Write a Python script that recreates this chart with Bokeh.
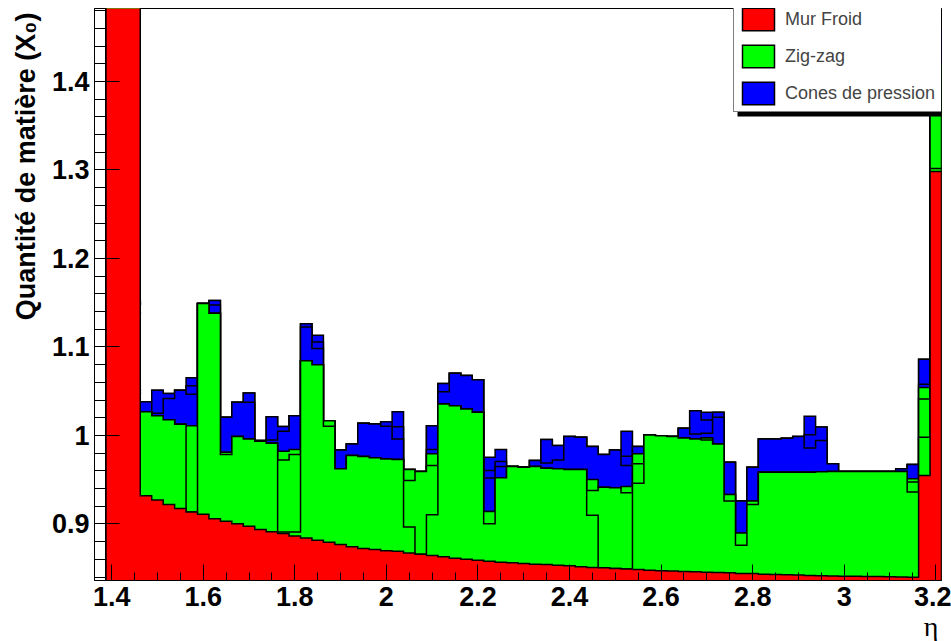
import numpy as np
from bokeh.plotting import figure
from bokeh.models import (Range1d, FixedTicker, Legend, LegendItem, Title,
                          BoxAnnotation, NumeralTickFormatter)
from bokeh.embed import file_html
from bokeh.resources import INLINE

# ---------------- data (eta bins of width 0.025 starting at 1.3625) ----------------
eta_start = 1.3625
bin_width = 0.025
n_bins = 74

# Mur Froid (red, bottom of the stack)
mur_froid = [
    0.0, 1.60, 1.60, 1.60,
    0.9319, 0.9270, 0.9221, 0.9176, 0.9135, 0.9109, 0.9060, 0.9030, 0.9003, 0.8973,
    0.8936, 0.8913, 0.8891, 0.8864, 0.8842, 0.8816, 0.8794, 0.8767, 0.8741, 0.8722,
    0.8711, 0.8696, 0.8692, 0.8673, 0.8658, 0.8643, 0.8628, 0.8613, 0.8602, 0.8590,
    0.8579, 0.8568, 0.8561, 0.8553, 0.8546, 0.8542, 0.8534, 0.8527, 0.8516, 0.8508,
    0.8504, 0.8497, 0.8490, 0.8486, 0.8478, 0.8471, 0.8467, 0.8463, 0.8459, 0.8455,
    0.8452, 0.8448, 0.8441, 0.8441, 0.8433, 0.8429, 0.8425, 0.8422, 0.8418, 0.8414,
    0.8412, 0.8410, 0.8409, 0.8407, 0.8405, 0.8403, 0.8401, 0.8399, 0.9548, 1.2983,
]

# stack level after the Zig-zag components (green)
zigzag_top = [
    0.0, 1.60, 1.60, 1.60,
    1.0268, 1.0223, 1.0178, 1.0126, 1.0111, 1.1492, 1.1380, 0.9811, 0.9987, 0.9961,
    0.9934, 0.9912, 0.9822, 0.9840, 1.0843, 1.0798, 1.0167, 0.9623, 0.9773, 0.9762,
    0.9747, 0.9735, 0.9728, 0.9615, 0.9592, 0.9792, 1.0355, 1.0336, 1.0298, 1.0261,
    0.9142, 0.9522, 0.9649, 0.9642, 0.9649, 0.9630, 0.9623, 0.9615, 0.9615, 0.9503,
    0.9416, 0.9409, 0.9424, 0.9792, 1.0006, 0.9998, 0.9987, 0.9972, 0.9961, 0.9972,
    0.9904, 0.9334, 0.8899, 0.9259, 0.9585, 0.9585, 0.9585, 0.9585, 0.9585, 0.9590,
    0.9593, 0.9593, 0.9593, 0.9593, 0.9593, 0.9593, 0.9593, 0.9510, 1.0542, 1.4200,
]

# stack level after the Cones de pression components (blue, top of the stack)
cones_top = [
    0.0, 1.60, 1.60, 1.60,
    1.0381, 1.0512, 1.0475, 1.0512, 1.0651, 1.1492, 1.1526, 1.0205, 1.0374, 1.0479,
    0.9942, 1.0212, 1.0100, 1.0223, 1.1263, 1.1132, 1.0167, 0.9837, 0.9904, 1.0137,
    1.0130, 1.0156, 1.0268, 0.9615, 0.9592, 1.0110, 1.0588, 1.0704, 1.0678, 1.0629,
    0.9754, 0.9840, 0.9649, 0.9642, 0.9716, 0.9953, 0.9886, 0.9987, 0.9979, 0.9874,
    0.9784, 0.9837, 1.0047, 0.9874, 1.0006, 0.9998, 0.9987, 1.0081, 1.0280, 1.0261,
    1.0261, 0.9698, 0.9259, 0.9642, 0.9961, 0.9961, 0.9968, 0.9987, 1.0216, 1.0095,
    0.9679, 0.9593, 0.9593, 0.9593, 0.9593, 0.9593, 0.9623, 0.9671, 1.0861, 1.4600,
]

N = None
# internal boundaries between the sub-histograms of one colour (None = no boundary)
zigzag_split_lo = [
    N, N, N, N,
    N, N, N, N, 0.9135, N, N, 0.9784, N, N,
    N, N, 0.8910, 0.8910, N, N, 1.0103, N, N, N,
    N, N, N, 0.8966, 0.8658, 0.9105, N, N, N, N,
    0.9003, N, N, N, N, N, N, N, N, 0.9097,
    0.8504, 0.8497, 0.8490, 0.9461, N, N, N, N, N, 0.9949,
    N, 0.9259, 0.8760, 0.9221, N, N, N, N, N, N,
    N, N, N, N, N, N, N, 0.9360, 0.9979, 1.3018,
]
zigzag_split_hi = [
    N, N, N, N,
    N, N, N, N, N, N, N, N, N, N,
    N, N, 0.9724, 0.9784, N, N, N, N, N, N,
    N, N, N, 0.9491, N, 0.9660, N, N, N, N,
    N, N, N, N, N, N, N, N, N, 0.9379,
    N, N, 0.9353, 0.9679, N, N, N, N, N, N,
    N, N, N, N, N, N, N, N, N, N,
    N, N, N, N, N, N, N, 0.9473, 1.0411, N,
]
cones_split_lo = [
    N, N, N, N,
    N, 1.0250, 1.0419, N, 1.0467, N, 1.1473, N, N, 1.0374,
    N, 0.9949, 1.0047, N, 1.1226, 1.0982, N, N, N, N,
    N, 1.0105, 0.9961, N, N, 0.9840, 1.0494, N, N, N,
    0.9518, 0.9649, N, N, N, 0.9690, 0.9724, N, N, N,
    N, N, 0.9660, N, N, N, N, N, 1.0017, 1.0024,
    1.0205, N, N, N, N, N, N, N, 0.9859, 0.9942,
    N, N, N, N, N, N, N, N, 1.0580, N,
]
cones_split_hi = [
    N, N, N, N,
    N, N, N, N, 1.0561, N, N, N, N, N,
    N, N, N, N, N, 1.1057, N, N, N, N,
    N, N, 1.0099, N, N, N, N, N, N, N,
    0.9604, 0.9705, N, N, N, N, N, N, N, N,
    N, N, 0.9765, N, N, N, N, N, N, 1.0175,
    N, N, N, N, N, N, N, N, 1.0009, N,
    N, N, N, N, N, N, N, N, N, N,
]

x_ticks = [1.4, 1.6, 1.8, 2.0, 2.2, 2.4, 2.6, 2.8, 3.0, 3.2]
x_minor = [1.35, 1.45, 1.5, 1.55, 1.65, 1.7, 1.75, 1.85, 1.9, 1.95, 2.05, 2.1, 2.15,
           2.25, 2.3, 2.35, 2.45, 2.5, 2.55, 2.65, 2.7, 2.75, 2.85, 2.9, 2.95,
           3.05, 3.1, 3.15]
y_ticks = [0.9, 1.0, 1.1, 1.2, 1.3, 1.4]
y_minor = [0.84, 0.86, 0.88, 0.92, 0.94, 0.96, 0.98, 1.02, 1.04, 1.06, 1.08,
           1.12, 1.14, 1.16, 1.18, 1.22, 1.24, 1.26, 1.28, 1.32, 1.34, 1.36,
           1.38, 1.42, 1.44, 1.46, 1.48]

# ---------------- derived stack levels ----------------
edges = eta_start + bin_width * np.arange(n_bins + 1)
R = np.array(mur_froid)
G = np.array(zigzag_top)
B = np.array(cones_top)


def with_default(arr, default):
    return np.array([d if a is None else a for a, d in zip(arr, default)])


gA = with_default(zigzag_split_lo, G)
gB = with_default(zigzag_split_hi, G)
bA = with_default(cones_split_lo, B)
bB = with_default(cones_split_hi, B)

base = 0.0


def step_polygon(levels):
    xs = [edges[0]]
    ys = [base]
    for k, v in enumerate(levels):
        xs += [edges[k], edges[k + 1]]
        ys += [v, v]
    xs.append(edges[-1])
    ys.append(base)
    return xs, ys


p = figure(width=951, height=641, title=None,
           x_range=Range1d(1.3625, 3.2125), y_range=Range1d(0.8361, 1.4825),
           output_backend="svg", toolbar_location=None,
           min_border_left=94, min_border_right=10, min_border_top=8,
           min_border_bottom=59)
p.grid.visible = False
p.background_fill_color = "white"
p.border_fill_color = "white"
p.outline_line_color = "black"
p.outline_line_width = 1

RED, GREEN, BLUE = "#ff0000", "#00ff00", "#0000ff"
LW = 1.5

renderers = {}
# ROOT-like THStack drawing: highest cumulative level first
for name, lev, col in [("cones", B, BLUE), ("cones_b", bB, BLUE), ("cones_a", bA, BLUE),
                       ("zigzag", G, GREEN), ("zigzag_b", gB, GREEN), ("zigzag_a", gA, GREEN),
                       ("mur", R, RED)]:
    xs, ys = step_polygon(lev)
    renderers[name] = p.patch(xs, ys, fill_color=col, line_color="black",
                              line_width=LW, line_join="miter")

# axes
FONT = "Liberation Sans"
for ax in (p.xaxis, p.yaxis):
    ax.major_label_text_font = FONT
    ax.major_label_text_font_style = "bold"
    ax.major_label_text_font_size = "27px"
    ax.major_label_text_color = "black"
    ax.axis_line_color = "black"
    ax.major_tick_line_color = "black"
    ax.minor_tick_line_color = "black"
    ax.major_tick_out = 0
    ax.minor_tick_out = 0
    ax.formatter = NumeralTickFormatter(format="0.[0]")

p.xaxis.ticker = FixedTicker(ticks=x_ticks, minor_ticks=x_minor)
p.yaxis.ticker = FixedTicker(ticks=y_ticks, minor_ticks=y_minor)
p.xaxis.major_tick_in = 16
p.xaxis.minor_tick_in = 8
p.yaxis.major_tick_in = 25
p.yaxis.minor_tick_in = 12
p.xaxis.major_label_standoff = 6
p.yaxis.major_label_standoff = 5

# axis titles (ROOT puts them at the end of the axis)
p.add_layout(Title(text="Quantité de matière (X₀)", align="right",
                   text_font=FONT, text_font_style="bold", text_font_size="27px",
                   text_color="black", text_line_height=0.7, standoff=16, offset=4),
             "left")
p.add_layout(Title(text="η", align="right",
                   text_font="Liberation Serif", text_font_style="normal",
                   text_font_size="28px", text_color="black",
                   text_line_height=0.8, standoff=0, offset=3),
             "below")

# legend with ROOT-like shadow
p.add_layout(BoxAnnotation(left=643, right=855, bottom=464, top=574,
                           left_units="screen", right_units="screen",
                           bottom_units="screen", top_units="screen",
                           fill_color="black", fill_alpha=1.0, line_alpha=0))
legend = Legend(items=[LegendItem(label="Mur Froid", renderers=[renderers["mur"]]),
                       LegendItem(label="Zig-zag", renderers=[renderers["zigzag"]]),
                       LegendItem(label="Cones de pression", renderers=[renderers["cones"]])],
                location=(639, 468), orientation="vertical")
legend.glyph_width = 40
legend.glyph_height = 28
legend.spacing = 9
legend.padding = 4
legend.margin = 0
legend.label_standoff = 7
legend.label_width = 157
legend.label_text_font = FONT
legend.label_text_font_size = "18px"
legend.border_line_color = "black"
legend.border_line_width = 1
legend.background_fill_color = "white"
legend.background_fill_alpha = 1.0
p.add_layout(legend)

open("out.html", "w").write(file_html(p, INLINE, title="Quantité de matière"))
